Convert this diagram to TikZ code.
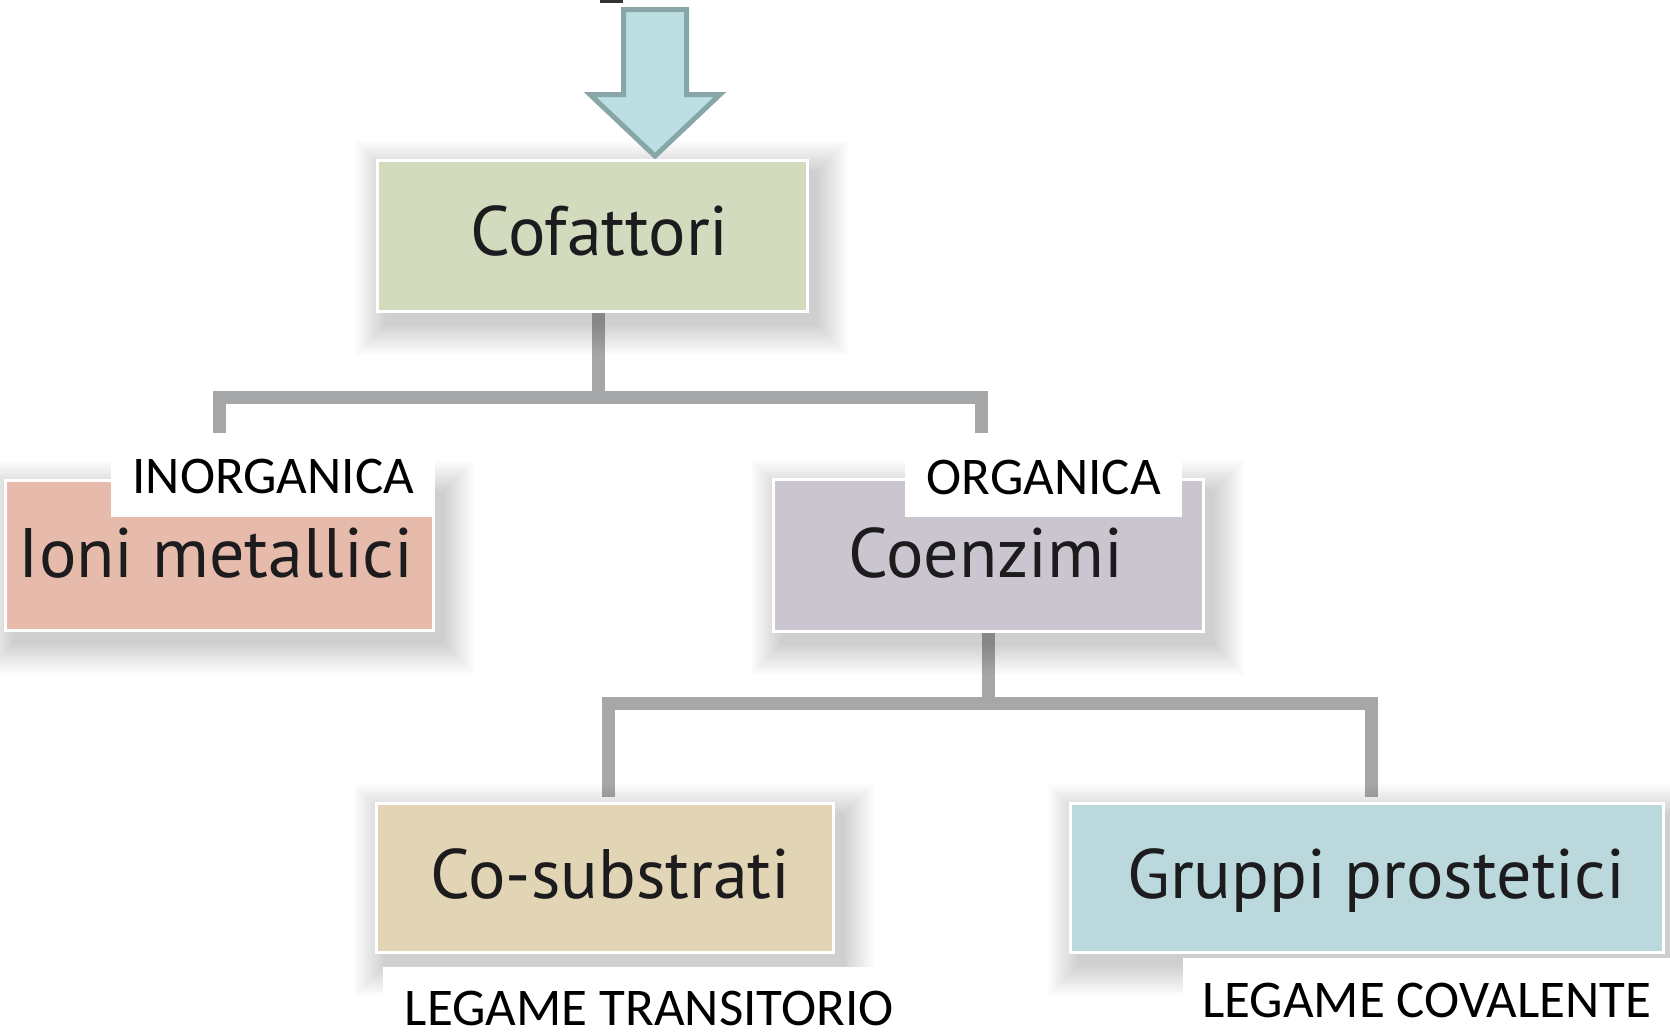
\documentclass[tikz,border=0pt]{standalone}
\usepackage{fontspec}
\newfontfamily\boxfont{PT Sans}
\newfontfamily\tagfont{Carlito}
\pgfdeclarelayer{back}
\pgfsetlayers{back,main}

\definecolor{ink}{HTML}{1C1B1D}
\definecolor{linkgray}{HTML}{A6A7A9}
\definecolor{arrowfill}{HTML}{BBDFE2}
\definecolor{arrowedge}{HTML}{88A5A7}
\definecolor{cofill}{HTML}{D3DBBF}
\definecolor{ionfill}{HTML}{E6BBAB}
\definecolor{coefill}{HTML}{CBC5D0}
\definecolor{subfill}{HTML}{E2D5B5}
\definecolor{grpfill}{HTML}{BBD8DC}

% soft drop shadow built from stacked translucent rectangles
\newcommand\softshade[1]{%
  \foreach \r in {0,2,...,30}{%
    \fill[black, opacity=0.012]
      ([shift={(9-\r,12-\r)}]#1.north west) rectangle
      ([shift={(9+\r,12+\r)}]#1.south east);
  }}

\begin{document}
\begin{tikzpicture}[x=1pt, y=-1pt,
  box/.style={rectangle, draw=white, line width=3pt, inner sep=0pt},
  boxtext/.style={font=\boxfont\fontsize{70}{78}\selectfont, text=ink,
    inner sep=0pt, anchor=base},
  tag/.style={fill=white, inner sep=0pt, anchor=north west,
    font=\tagfont\fontsize{53}{60}\selectfont, text=black},
  conn/.style={draw=linkgray, line width=13pt, line join=miter}]

\begin{pgfonlayer}{back}
  \fill[white] (0,0) rectangle (1670,1034);
\end{pgfonlayer}
\useasboundingbox (0,0) rectangle (1670,1034);

% leftover mark at the top edge
\fill[ink!90] (600,0) rectangle (623,3);

% incoming block arrow
\draw[fill=arrowfill, draw=arrowedge, line width=5pt, line join=miter]
  (623.5,9.5) -- (686.5,9.5) -- (686.5,94.5) -- (720,94.5) -- (655,156)
  -- (590,94.5) -- (623.5,94.5) -- cycle;

% boxes
\node[box, fill=cofill,  minimum width=430pt, minimum height=151pt] (cof)   at (592,235.5) {};
\node[box, fill=ionfill, minimum width=428pt, minimum height=150pt] (ioni)  at (219,555) {};
\node[box, fill=coefill, minimum width=430pt, minimum height=152pt] (coe)   at (988,555) {};
\node[box, fill=subfill, minimum width=457pt, minimum height=149pt] (cosub) at (604.5,877.5) {};
\node[box, fill=grpfill, minimum width=593pt, minimum height=149pt] (grup)  at (1366.5,877.5) {};

% box captions
\node[boxtext] (cofT)   at (599.5,255) {Cofattori};
\node[boxtext] (ioniT)  at (216,577)   {Ioni metallici};
\node[boxtext] (coeT)   at (986,577)   {Coenzimi};
\node[boxtext] (cosubT) at (610.5,898) {Co-substrati};
\node[boxtext] (grupT)  at (1376,898)  {Gruppi prostetici};

% tree connectors, then the shadows that fall over them
\coordinate (j1) at (598.5,397.5);
\coordinate (e1) at (219,433);
\coordinate (e2) at (981.5,433);
\coordinate (j2) at (988,703);
\coordinate (e3) at (608,797);
\coordinate (e4) at (1371,797);
\begin{pgfonlayer}{back}
  \draw[conn] (cof.south -| j1) -- (j1);
  \draw[conn] (e1) |- (j1) -| (e2);
  \draw[conn] (coe.south) -- (j2);
  \draw[conn] (e3) |- (j2) -| (e4);
  \softshade{cof}
  \softshade{ioni}
  \softshade{coe}
  \softshade{cosub}
  \softshade{grup}
\end{pgfonlayer}

% white tags
\node[tag, minimum width=324pt, text height=48pt, text depth=24pt] (inorg) at (111,445) {INORGANICA};
\node[tag, minimum width=277pt, text height=46pt, text depth=23pt] (org)   at (905,448) {ORGANICA};
\node[tag, minimum width=532pt, text height=58pt, text depth=5pt]  (trans) at (383,967) {LEGAME TRANSITORIO};
\node[tag, minimum width=487pt, text height=59pt, text depth=17pt] (coval) at (1183,958) {LEGAME COVALENTE};
\end{tikzpicture}
\end{document}
